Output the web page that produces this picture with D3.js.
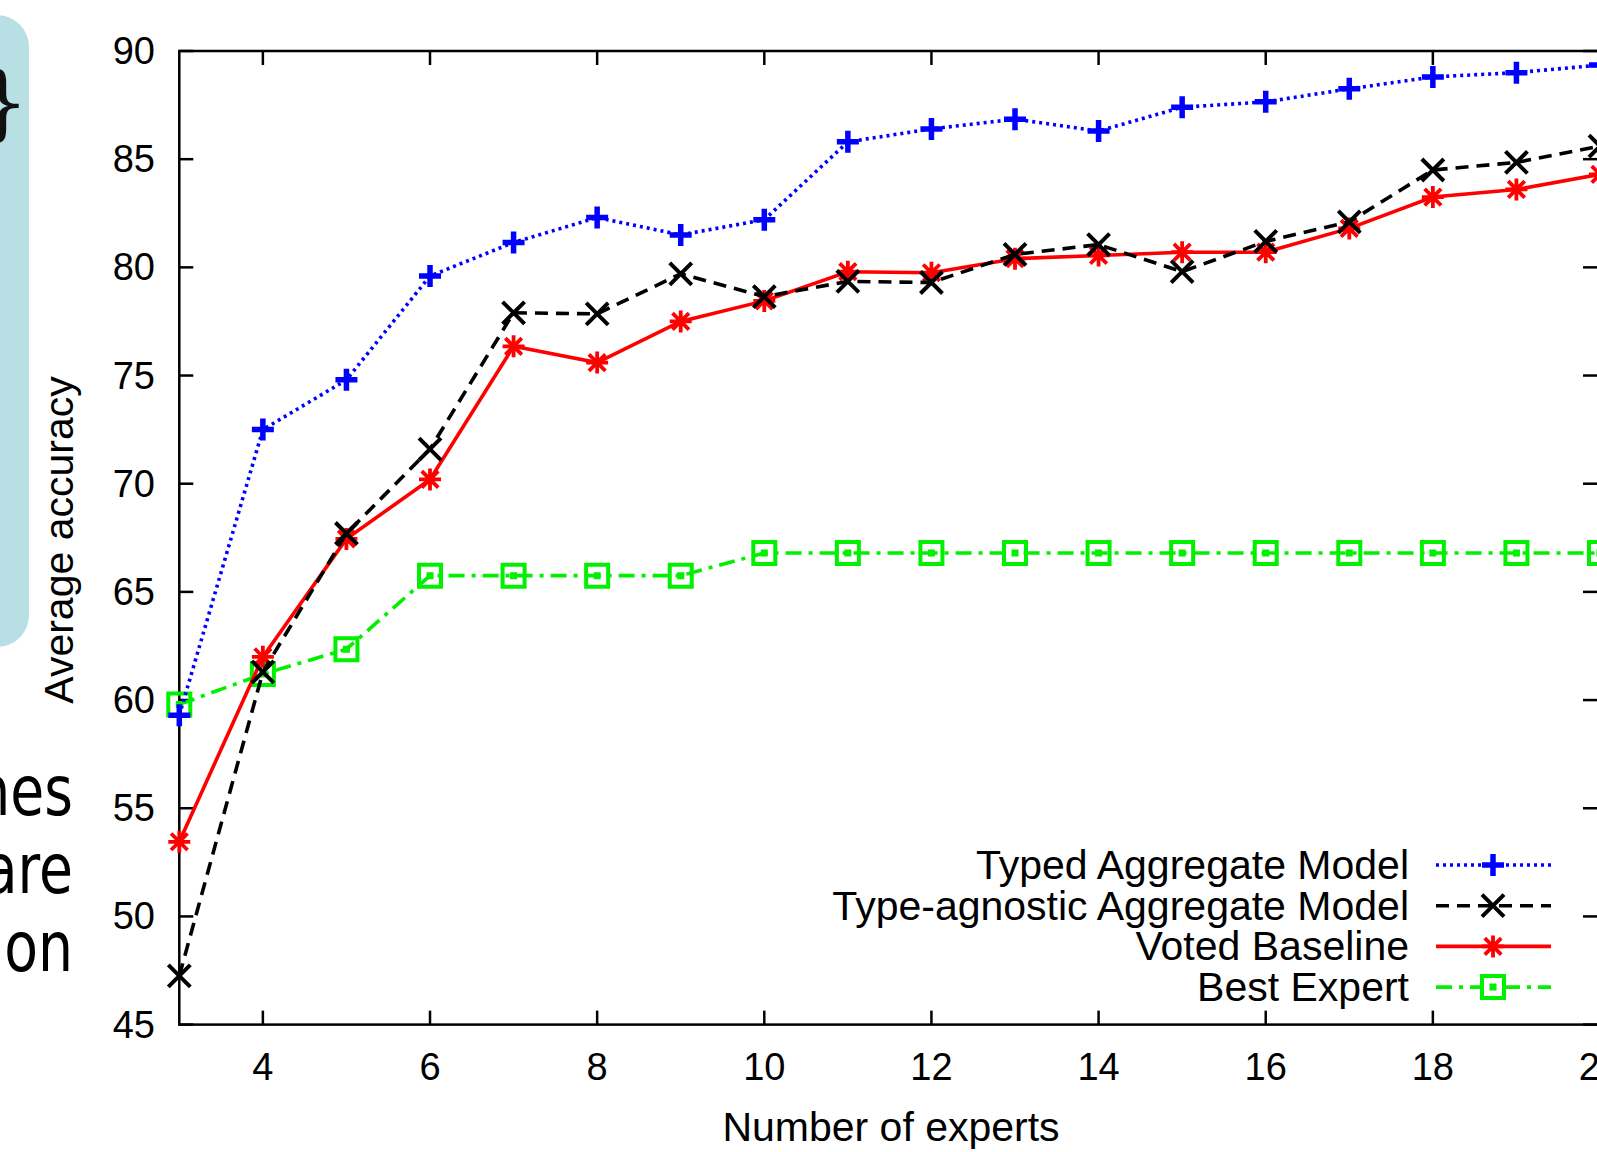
<!DOCTYPE html>
<html>
<head>
<meta charset="utf-8">
<script src="https://cdn.jsdelivr.net/npm/d3@7"></script>
<style>
  body { margin: 0; background: #fff; }
  svg { display: block; }
</style>
</head>
<body>
<svg id="chart" width="1597" height="1152"></svg>
<script>
// number of experts
const experts = [3, 4, 5, 6, 7, 8, 9, 10, 11, 12, 13, 14, 15, 16, 17, 18, 19, 20];

const typedAggregate = [59.3, 72.5, 74.8, 79.6, 81.15, 82.3, 81.5, 82.2, 85.8, 86.4, 86.85, 86.3, 87.4, 87.65, 88.25, 88.8, 89.0, 89.35];
const typeAgnostic   = [47.25, 61.3, 67.7, 71.6, 77.9, 77.85, 79.7, 78.65, 79.35, 79.3, 80.6, 81.05, 79.8, 81.2, 82.1, 84.5, 84.85, 85.6];
const votedBaseline  = [53.45, 62.0, 67.45, 70.2, 76.35, 75.6, 77.5, 78.45, 79.8, 79.75, 80.4, 80.55, 80.7, 80.7, 81.8, 83.25, 83.6, 84.3];
const bestExpert     = [59.8, 61.2, 62.35, 65.75, 65.75, 65.75, 65.75, 66.8, 66.8, 66.8, 66.8, 66.8, 66.8, 66.8, 66.8, 66.8, 66.8, 66.8];

const xTicks = [4, 6, 8, 10, 12, 14, 16, 18, 20];
const yTicks = [45, 50, 55, 60, 65, 70, 75, 80, 85, 90];

const seriesNames = ['Typed Aggregate Model', 'Type-agnostic Aggregate Model', 'Voted Baseline', 'Best Expert'];

const svg = d3.select('#chart');

// slide pieces behind the chart
svg.append('rect')
   .attr('x', -60).attr('y', 15)
   .attr('width', 89).attr('height', 632)
   .attr('rx', 32)
   .attr('fill', '#b8dfe3');

svg.append('text')
   .attr('x', 29).attr('y', 131)
   .attr('text-anchor', 'end')
   .style('font-family', 'DejaVu Serif, serif')
   .style('font-size', '82px')
   .attr('fill', '#111')
   .text('}');

const slideLines = ['nes', 'are', 'on'];
svg.selectAll('text.slide')
   .data(slideLines)
   .enter()
   .append('text')
   .attr('class', 'slide')
   .attr('transform', (d, i) => `translate(73,${815 + i * 78}) scale(0.8,1)`)
   .attr('text-anchor', 'end')
   .style('font-family', 'DejaVu Sans, Verdana, sans-serif')
   .style('font-size', '69px')
   .attr('fill', '#000')
   .text(d => d);

const plotLeft = 179.3, plotRight = 1600, plotTop = 51, plotBottom = 1024.6;

const x = d3.scaleLinear().domain([3, 20]).range([plotLeft, plotRight]);
const y = d3.scaleLinear().domain([45, 90]).range([plotBottom, plotTop]);

const font = '"Liberation Sans", Arial, Helvetica, sans-serif';
const tickLen = 14;

const axisG = svg.append('g');

// frame
axisG.append('rect')
   .attr('x', plotLeft).attr('y', plotTop)
   .attr('width', plotRight - plotLeft).attr('height', plotBottom - plotTop)
   .attr('fill', 'none')
   .attr('stroke', '#000')
   .attr('stroke-width', 2.5);

// y ticks, both sides
axisG.selectAll('line.yl')
   .data(yTicks)
   .enter()
   .append('line')
   .attr('x1', plotLeft).attr('x2', plotLeft + tickLen)
   .attr('y1', d => y(d)).attr('y2', d => y(d))
   .attr('stroke', '#000').attr('stroke-width', 2.5);

axisG.selectAll('line.yr')
   .data(yTicks)
   .enter()
   .append('line')
   .attr('x1', plotRight - tickLen - 3).attr('x2', plotRight)
   .attr('y1', d => y(d)).attr('y2', d => y(d))
   .attr('stroke', '#000').attr('stroke-width', 2.5);

axisG.selectAll('text.yt')
   .data(yTicks)
   .enter()
   .append('text')
   .attr('x', 155)
   .attr('y', d => y(d) + 13)
   .attr('text-anchor', 'end')
   .style('font-family', font)
   .style('font-size', '38px')
   .text(d => d);

// x ticks, bottom and top
axisG.selectAll('line.xb')
   .data(xTicks)
   .enter()
   .append('line')
   .attr('x1', d => x(d)).attr('x2', d => x(d))
   .attr('y1', plotBottom).attr('y2', plotBottom - tickLen)
   .attr('stroke', '#000').attr('stroke-width', 2.5);

axisG.selectAll('line.xt')
   .data(xTicks)
   .enter()
   .append('line')
   .attr('x1', d => x(d)).attr('x2', d => x(d))
   .attr('y1', plotTop).attr('y2', plotTop + tickLen)
   .attr('stroke', '#000').attr('stroke-width', 2.5);

axisG.selectAll('text.xt')
   .data(xTicks)
   .enter()
   .append('text')
   .attr('x', d => x(d))
   .attr('y', 1080)
   .attr('text-anchor', 'middle')
   .style('font-family', font)
   .style('font-size', '38px')
   .text(d => d);

axisG.append('text')
   .attr('x', 891).attr('y', 1141)
   .attr('text-anchor', 'middle')
   .style('font-family', font)
   .style('font-size', '41px')
   .text('Number of experts');

axisG.append('text')
   .attr('transform', 'translate(73,540) rotate(-90)')
   .attr('text-anchor', 'middle')
   .style('font-family', font)
   .style('font-size', '41px')
   .text('Average accuracy');

// markers
const ms = 11;
const markerPath = {
  plus: `M${-ms},0H${ms}M0,${-ms}V${ms}`,
  cross: `M${-ms},${-ms}L${ms},${ms}M${-ms},${ms}L${ms},${-ms}`,
  star: `M${-ms},0H${ms}M0,${-ms}V${ms}M${-ms * 0.75},${-ms * 0.75}L${ms * 0.75},${ms * 0.75}M${-ms * 0.75},${ms * 0.75}L${ms * 0.75},${-ms * 0.75}`,
  square: `M${-ms},${-ms}H${ms}V${ms}H${-ms}Z M-1.5,-1.5H1.5V1.5H-1.5Z`
};

const series = [
  { name: seriesNames[0], values: typedAggregate, color: '#0000ff', dash: '3,4', width: 3.6, marker: 'plus', mw: 5.5 },
  { name: seriesNames[1], values: typeAgnostic, color: '#000000', dash: '13,8', width: 3.6, marker: 'cross', mw: 4 },
  { name: seriesNames[2], values: votedBaseline, color: '#ff0000', dash: null, width: 3.6, marker: 'star', mw: 3.8 },
  { name: seriesNames[3], values: bestExpert, color: '#00f000', dash: '16,7,4,7', width: 3.6, marker: 'square', mw: 4 }
];

const line = d3.line()
  .x((d, i) => x(experts[i]))
  .y(d => y(d));

const plotG = svg.append('g');

// draw in reverse so the blue series sits on top
series.slice().reverse().forEach(s => {
  plotG.append('path')
     .attr('d', line(s.values))
     .attr('fill', 'none')
     .attr('stroke', s.color)
     .attr('stroke-width', s.width)
     .attr('stroke-dasharray', s.dash);

  plotG.selectAll(null)
     .data(s.values)
     .enter()
     .append('path')
     .attr('transform', (d, i) => `translate(${x(experts[i])},${y(d)})`)
     .attr('d', markerPath[s.marker])
     .attr('fill', 'none')
     .attr('stroke', s.color)
     .attr('stroke-width', s.mw);
});

// legend
const legend = svg.append('g');
series.forEach((s, i) => {
  const ly = 865 + i * 40.7;
  legend.append('text')
     .attr('x', 1409).attr('y', ly + 14)
     .attr('text-anchor', 'end')
     .style('font-family', font)
     .style('font-size', '41px')
     .text(s.name);
  legend.append('line')
     .attr('x1', 1436).attr('x2', 1551)
     .attr('y1', ly).attr('y2', ly)
     .attr('stroke', s.color)
     .attr('stroke-width', s.width)
     .attr('stroke-dasharray', s.dash);
  legend.append('path')
     .attr('transform', `translate(1493,${ly})`)
     .attr('d', markerPath[s.marker])
     .attr('fill', s.marker === 'square' ? '#fff' : 'none')
     .attr('stroke', s.color)
     .attr('stroke-width', s.mw);
});
</script>
</body>
</html>
